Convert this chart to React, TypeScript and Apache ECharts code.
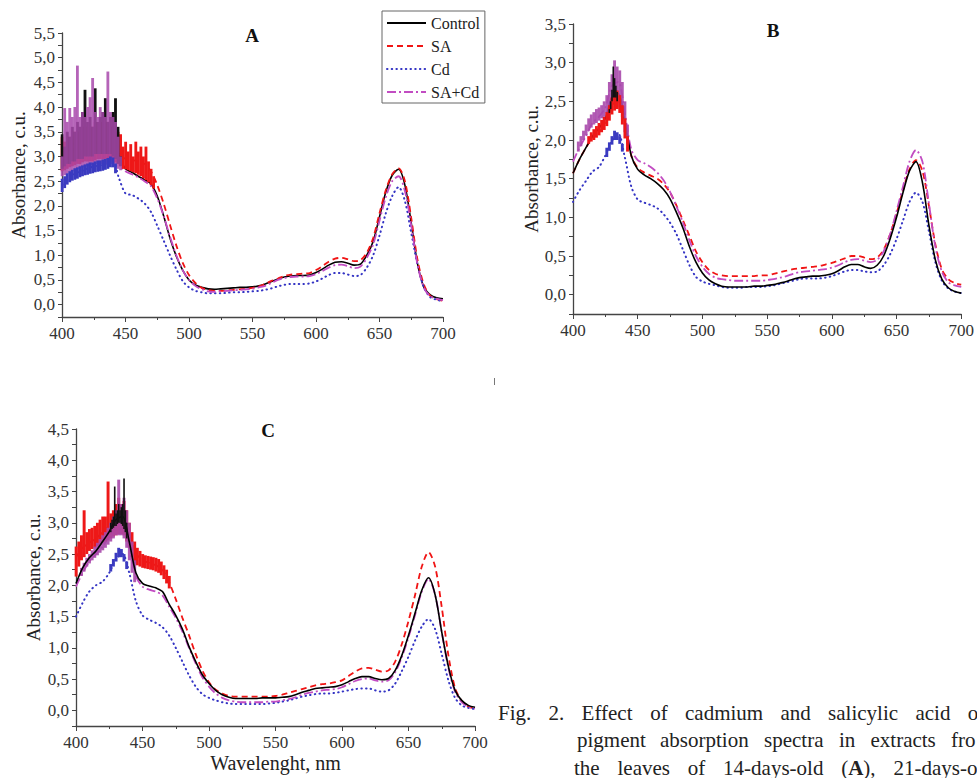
import React, { useEffect, useRef } from "react";
import * as echarts from "echarts";

// ---------- shared wavelength grid (nm) ----------
const WL = [400,405,410,415,420,425,430,435,440,445,450,455,460,465,470,475,480,485,490,495,500,505,510,515,520,525,530,535,540,545,550,555,560,565,570,575,580,585,590,595,600,605,610,615,620,625,630,635,640,645,650,655,660,665,670,675,680,685,690,695,700];

// ---------- Panel A (14 days) ----------
const A_CONTROL = [3.1,3.1,3.15,3.2,3.2,3.25,3.3,3.3,3.3,3.0, 2.75,2.68,2.6,2.53,2.45,2.2,1.8,1.35,0.98,0.7, 0.5,0.4,0.35,0.32,0.31,0.32,0.33,0.34,0.35,0.35, 0.36,0.38,0.42,0.47,0.52,0.56,0.58,0.59,0.59,0.6, 0.65,0.72,0.8,0.86,0.87,0.84,0.8,0.82,1.0,1.28, 1.78,2.28,2.62,2.74,2.42,1.65,0.82,0.35,0.2,0.14, 0.12];
const A_SA = [3.0,3.05,3.1,3.15,3.2,3.25,3.3,3.3,3.25,3.05, 2.95,2.93,2.9,2.85,2.7,2.42,2.05,1.62,1.2,0.85, 0.6,0.44,0.34,0.3,0.28,0.28,0.29,0.3,0.31,0.32, 0.34,0.37,0.42,0.48,0.53,0.58,0.61,0.62,0.63,0.64, 0.7,0.78,0.87,0.93,0.95,0.92,0.88,0.9,1.05,1.35, 1.85,2.32,2.64,2.76,2.5,1.75,0.9,0.4,0.18,0.11, 0.08];
const A_CD = [2.35,2.55,2.65,2.7,2.75,2.8,2.82,2.85,2.9,2.55, 2.25,2.22,2.15,2.05,1.88,1.6,1.3,1.0,0.72,0.48, 0.35,0.28,0.25,0.23,0.23,0.23,0.24,0.25,0.25,0.26, 0.27,0.28,0.3,0.33,0.37,0.4,0.42,0.42,0.42,0.43, 0.47,0.53,0.6,0.64,0.64,0.61,0.58,0.6,0.75,1.0, 1.4,1.85,2.2,2.38,2.1,1.45,0.8,0.35,0.15,0.1, 0.07];
const A_SACD = [3.15,3.2,3.25,3.25,3.3,3.3,3.3,3.3,3.3,2.85, 2.7,2.64,2.58,2.5,2.4,2.15,1.8,1.38,1.0,0.7, 0.5,0.38,0.31,0.27,0.26,0.27,0.28,0.29,0.3,0.31, 0.32,0.35,0.38,0.44,0.5,0.54,0.56,0.57,0.57,0.58, 0.62,0.68,0.75,0.8,0.81,0.78,0.74,0.77,0.95,1.22, 1.7,2.18,2.5,2.6,2.3,1.6,0.8,0.34,0.17,0.12, 0.09];

// noisy regions of panel A: wavelength, lower and upper envelope of the scatter
const A_NOISE_X = [400,402,404,406,408,410,412,414,416,418,420,422,424,426,428,430,432,434,436,438,440,442,444,446];
const A_CONTROL_HI = [3.45,3.2,3.5,3.4,3.6,3.5,3.7,3.6,3.9,4.35,3.7,3.8,3.6,4.38,3.7,3.8,3.9,4.18,3.7,3.8,3.9,4.18,3.6,3.0];
const A_CONTROL_LO = [2.75,2.8,2.85,2.85,2.9,2.9,2.95,2.95,2.95,3.0,3.0,3.0,3.0,3.05,3.05,3.05,3.05,3.05,3.05,3.05,3.0,2.95,2.85,2.8];
const A_SACD_HI = [3.0,3.98,3.7,3.98,3.8,4.0,4.84,3.8,3.9,3.8,4.0,4.2,4.59,3.9,3.8,4.0,3.9,3.8,4.72,3.9,3.8,3.7,3.4,3.0];
const A_SACD_LO = [2.6,2.62,2.65,2.68,2.7,2.72,2.75,2.75,2.78,2.8,2.8,2.82,2.82,2.85,2.85,2.85,2.85,2.85,2.85,2.85,2.85,2.8,2.75,2.72];
const A_SA_NX = [400,402,404,406,408,410,412,414,416,418,420,422,424,426,428,430,432,434,436,438,440,442,444,446,448,450,452,454,456,458,460,462,464,466,468,470,472];
const A_SA_HI = [3.4,3.3,3.3,3.4,3.4,3.5,3.5,3.5,3.6,3.6,3.6,3.6,3.6,3.7,3.7,3.7,3.7,3.7,3.7,3.6,3.6,3.5,3.5,3.45,3.2,3.3,3.1,3.25,3.0,3.3,3.1,3.2,3.0,3.2,2.9,2.75,2.6];
const A_SA_LO = [2.7,2.72,2.75,2.78,2.8,2.82,2.85,2.85,2.88,2.9,2.9,2.9,2.9,2.92,2.95,2.95,2.95,2.95,2.95,2.92,2.9,2.88,2.85,2.8,2.75,2.74,2.72,2.7,2.68,2.66,2.63,2.6,2.56,2.52,2.48,2.42,2.35];
const A_CD_NX = [400,402,404,406,408,410,412,414,416,418,420,422,424,426,428,430,432,434,436,438,440,442];
const A_CD_HI = [2.55,2.6,2.66,2.7,2.73,2.76,2.78,2.8,2.82,2.84,2.86,2.88,2.88,2.9,2.92,2.92,2.94,2.95,2.97,3.0,2.98,2.86];
const A_CD_LO = [2.28,2.36,2.43,2.48,2.51,2.53,2.55,2.58,2.6,2.62,2.63,2.65,2.66,2.68,2.69,2.7,2.71,2.73,2.75,2.78,2.78,2.66];

// ---------- Panel B (21 days) ----------
const B_CONTROL = [1.57,1.75,1.9,2.05,2.15,2.28,2.55,2.6,2.25,1.8, 1.62,1.55,1.5,1.44,1.36,1.24,1.06,0.86,0.62,0.42, 0.28,0.19,0.14,0.11,0.1,0.1,0.1,0.1,0.11,0.11, 0.12,0.13,0.15,0.17,0.2,0.22,0.23,0.24,0.24,0.25, 0.27,0.31,0.36,0.39,0.39,0.36,0.34,0.38,0.5,0.72, 1.0,1.32,1.6,1.72,1.45,0.9,0.45,0.2,0.09,0.04, 0.02];
const B_SA = [1.57,1.75,1.9,2.03,2.1,2.2,2.45,2.5,2.2,1.8, 1.64,1.58,1.54,1.5,1.43,1.32,1.15,0.96,0.76,0.56, 0.42,0.32,0.27,0.25,0.24,0.24,0.24,0.24,0.24,0.25, 0.25,0.27,0.29,0.31,0.33,0.34,0.35,0.36,0.37,0.39, 0.41,0.44,0.47,0.5,0.5,0.48,0.46,0.48,0.58,0.78, 1.05,1.35,1.62,1.74,1.6,1.15,0.65,0.33,0.2,0.15, 0.13];
const B_CD = [1.2,1.35,1.47,1.59,1.65,1.8,1.98,2.08,1.78,1.4, 1.23,1.19,1.16,1.12,1.04,0.93,0.78,0.58,0.38,0.23, 0.17,0.14,0.12,0.1,0.09,0.09,0.09,0.1,0.1,0.1, 0.11,0.12,0.14,0.16,0.18,0.2,0.21,0.21,0.21,0.22, 0.24,0.27,0.3,0.32,0.32,0.3,0.29,0.3,0.38,0.52, 0.72,0.96,1.2,1.32,1.2,0.82,0.42,0.18,0.08,0.04, 0.02];
const B_SACD = [1.72,1.9,2.05,2.22,2.3,2.42,2.7,2.75,2.35,1.88, 1.74,1.7,1.65,1.58,1.48,1.33,1.14,0.93,0.7,0.5, 0.36,0.27,0.22,0.2,0.19,0.18,0.18,0.18,0.18,0.18, 0.19,0.2,0.22,0.24,0.27,0.29,0.3,0.31,0.32,0.33, 0.35,0.38,0.42,0.45,0.46,0.44,0.42,0.45,0.56,0.78, 1.08,1.4,1.72,1.87,1.72,1.18,0.62,0.3,0.16,0.12, 0.1];

const B_SACD_NX = [404,406,408,410,412,414,416,418,420,422,424,426,428,430,432,434,436,438,440,442];
const B_SACD_HI = [1.98,2.05,2.12,2.2,2.28,2.33,2.36,2.4,2.42,2.45,2.5,2.58,2.75,2.85,3.03,2.95,2.9,2.75,2.5,2.2];
const B_SACD_LO = [1.85,1.92,2.0,2.06,2.12,2.16,2.2,2.22,2.25,2.28,2.3,2.35,2.42,2.5,2.5,2.48,2.42,2.3,2.1,1.95];
const B_SA_NX = [412,414,416,418,420,422,424,426,428,430,432,434,436,438,440,442];
const B_SA_HI = [2.05,2.1,2.14,2.18,2.22,2.26,2.3,2.36,2.45,2.55,2.62,2.64,2.58,2.45,2.28,2.05];
const B_SA_LO = [1.95,1.98,2.0,2.03,2.06,2.1,2.13,2.18,2.25,2.33,2.38,2.4,2.35,2.2,2.02,1.85];
const B_CONTROL_NX = [428,429,430,431,432,433,434];
const B_CONTROL_HI = [2.4,2.5,2.65,2.95,2.8,2.7,2.62];
const B_CONTROL_LO = [2.35,2.4,2.5,2.55,2.55,2.55,2.5];
const B_CD_NX = [426,428,430,432,434,436,438];
const B_CD_HI = [1.9,1.97,2.05,2.12,2.1,2.05,1.95];
const B_CD_LO = [1.78,1.86,1.94,2.0,2.0,1.95,1.85];

// ---------- Panel C (28 days) ----------
const C_CONTROL = [2.03,2.28,2.44,2.55,2.7,2.86,3.05,3.1,2.7,2.2, 2.03,1.99,1.96,1.9,1.7,1.52,1.3,1.02,0.78,0.57, 0.43,0.32,0.25,0.21,0.19,0.19,0.19,0.19,0.2,0.2, 0.2,0.21,0.22,0.25,0.29,0.32,0.35,0.36,0.37,0.38, 0.41,0.46,0.51,0.54,0.54,0.51,0.49,0.51,0.64,0.88, 1.2,1.56,1.92,2.12,1.85,1.25,0.7,0.32,0.16,0.08, 0.05];
const C_SA = [2.45,2.6,2.68,2.75,2.85,2.95,3.05,3.05,2.85,2.52, 2.4,2.36,2.32,2.25,2.05,1.78,1.48,1.2,0.9,0.64, 0.45,0.33,0.27,0.23,0.22,0.22,0.22,0.22,0.22,0.22, 0.23,0.25,0.28,0.31,0.34,0.37,0.4,0.42,0.43,0.45, 0.48,0.55,0.62,0.67,0.68,0.65,0.62,0.64,0.78,1.06, 1.43,1.85,2.3,2.53,2.3,1.65,0.88,0.36,0.15,0.06, 0.03];
const C_CD = [1.5,1.72,1.9,2.0,2.06,2.2,2.42,2.5,2.2,1.75, 1.52,1.45,1.4,1.33,1.2,1.0,0.78,0.56,0.38,0.26, 0.2,0.16,0.13,0.11,0.1,0.1,0.1,0.1,0.1,0.11, 0.12,0.14,0.16,0.19,0.22,0.24,0.26,0.27,0.27,0.28, 0.3,0.32,0.34,0.35,0.35,0.32,0.3,0.32,0.43,0.63, 0.86,1.12,1.34,1.46,1.3,0.9,0.48,0.2,0.08,0.04, 0.02];
const C_SACD = [1.98,2.2,2.38,2.5,2.62,2.78,2.95,3.0,2.65,2.15, 1.98,1.93,1.9,1.84,1.66,1.48,1.26,1.0,0.75,0.53, 0.38,0.27,0.2,0.16,0.14,0.13,0.13,0.13,0.13,0.14, 0.14,0.16,0.18,0.21,0.25,0.28,0.3,0.32,0.33,0.34, 0.37,0.42,0.47,0.5,0.51,0.48,0.46,0.48,0.61,0.85, 1.17,1.53,1.9,2.1,1.85,1.25,0.68,0.3,0.13,0.06, 0.03];

const C_SA_NX = [400,402,404,406,408,410,412,414,416,418,420,422,424,426,428,430,432,434,436,438,440,442,444,446,448,450,452,454,456,458,460,462,464,466,468,470];
const C_SA_HI = [2.62,2.7,2.8,3.2,2.85,2.9,2.92,2.95,3.0,3.05,3.1,3.1,3.66,3.15,3.2,3.3,3.4,3.3,3.35,3.2,3.0,2.85,2.7,2.6,2.55,2.5,2.48,2.47,2.46,2.45,2.44,2.42,2.38,2.32,2.25,2.15];
const C_SA_LO = [2.14,2.3,2.4,2.45,2.5,2.55,2.58,2.6,2.62,2.65,2.68,2.7,2.72,2.75,2.78,2.8,2.82,2.82,2.8,2.7,2.6,2.45,2.35,2.32,2.3,2.28,2.27,2.26,2.25,2.24,2.22,2.2,2.16,2.1,2.03,1.95];
const C_SACD_NX = [404,406,408,410,412,414,416,418,420,422,424,426,428,430,432,434,436,438,440,442,444];
const C_SACD_HI = [2.28,2.36,2.44,2.5,2.56,2.62,2.68,2.74,2.8,2.85,2.92,3.0,3.1,3.2,3.69,3.3,3.4,3.2,3.0,2.7,2.4];
const C_SACD_LO = [2.15,2.22,2.3,2.35,2.4,2.44,2.48,2.52,2.56,2.6,2.65,2.7,2.75,2.8,2.8,2.8,2.75,2.6,2.4,2.2,2.05];
const C_CONTROL_NX = [426,427,428,429,430,431,432,433,434,435,436,437,438];
const C_CONTROL_HI = [3.0,3.05,3.1,3.58,3.15,3.2,3.3,3.2,3.25,3.3,3.71,3.2,3.0];
const C_CONTROL_LO = [2.85,2.9,2.92,2.95,2.95,2.98,3.0,3.0,2.98,2.95,2.9,2.85,2.75];
const C_CD_NX = [426,428,430,432,434,436,438];
const C_CD_HI = [2.34,2.42,2.52,2.6,2.58,2.5,2.38];
const C_CD_LO = [2.22,2.3,2.38,2.45,2.45,2.38,2.26];

// ---------- texts ----------
const LEGEND_NAMES = ["Control", "SA", "Cd", "SA+Cd"];
const Y_NAME = "Absorbance, c.u.";
const X_NAME = "Wavelenght, nm";
const PANEL_TITLES = ["A", "B", "C"];
const CAPTION_L1 = ["Fig.", "2.", "Effect", "of", "cadmium", "and", "salicylic", "acid", "o"];
const CAPTION_L2 = ["pigment", "absorption", "spectra", "in", "extracts", "fro"];
const CAPTION_L3 = ["the", "leaves", "of", "14-days-old", "({b|A}),", "21-days-o"];

const FONT = '"Liberation Serif", "Times New Roman", serif';
const COLORS = { Control: "#000000", SA: "#f01414", Cd: "#3434c4", "SA+Cd": "#c24cc2" };
const BAND_COLORS = { Control: "#111111", SA: "#ee1818", Cd: "#3a3ac0", "SA+Cd": "#a849ab" };

function lineStyleFor(name: string) {
  switch (name) {
    case "Control": return { color: COLORS.Control, width: 1.6, type: "solid" as any };
    case "SA": return { color: COLORS.SA, width: 1.8, type: [6, 4] as any };
    case "Cd": return { color: COLORS.Cd, width: 2, type: [0.5, 4.2] as any, cap: "round" as any };
    default: return { color: COLORS["SA+Cd"], width: 1.8, type: [9, 3, 2, 3] as any };
  }
}

function lineSeries(name: string, gi: number, values: number[], z = 2) {
  return {
    type: "line", name, xAxisIndex: gi, yAxisIndex: gi, z,
    data: WL.map((w, i) => [w, values[i]]),
    symbol: "none", showSymbol: false, smooth: 0.3,
    lineStyle: lineStyleFor(name),
    itemStyle: { color: (COLORS as any)[name] },
    silent: true,
  };
}

function bandSeries(id: string, gi: number, xs: number[], lo: number[], hi: number[], color: string, z: number, opacity = 1) {
  return {
    type: "custom", name: id, xAxisIndex: gi, yAxisIndex: gi, z, silent: true,
    data: xs.map((x, i) => [x, lo[i], hi[i]]),
    encode: { x: 0, y: [1, 2] },
    renderItem: (params: any, api: any) => {
      const i = params.dataIndex;
      const n = xs.length;
      const x = xs[i];
      const left = i > 0 ? (x - xs[i - 1]) / 2 : (xs[1] - xs[0]) / 2;
      const right = i < n - 1 ? (xs[i + 1] - x) / 2 : left;
      const p1 = api.coord([x - left, api.value(2)]);
      const p2 = api.coord([x + right, api.value(1)]);
      return {
        type: "rect",
        shape: { x: p1[0], y: p1[1], width: p2[0] - p1[0] + 0.3, height: p2[1] - p1[1] },
        style: { fill: color, opacity },
      };
    },
  };
}

function xAxisFor(gi: number, withName: boolean) {
  return {
    type: "value", gridIndex: gi, min: 400, max: 700, interval: 50,
    axisLine: { show: true, onZero: false, lineStyle: { color: "#444", width: 1.3 } },
    axisTick: { show: true, length: 5, lineStyle: { color: "#444", width: 1 } },
    minorTick: { show: true, splitNumber: 2, length: 3, lineStyle: { color: "#444", width: 1 } },
    splitLine: { show: false }, minorSplitLine: { show: false },
    axisLabel: { color: "#333", fontFamily: FONT, fontSize: 17, margin: 8 },
    name: withName ? X_NAME : "", nameLocation: "middle", nameGap: 27,
    nameTextStyle: { fontFamily: FONT, fontSize: 20, color: "#222" },
  };
}

function yFmt(v: number) {
  const r = Math.round(v * 2);
  if (Math.abs(v * 2 - r) > 1e-6 || v < -1e-6) return "";
  return (r / 2).toFixed(1).replace(".", ",");
}

function yAxisFor(gi: number, max: number, gap: number) {
  return {
    type: "value", gridIndex: gi, min: -0.25, max, interval: 0.25,
    axisLine: { show: true, onZero: false, lineStyle: { color: "#444", width: 1.3 } },
    axisTick: { show: true, length: 4, lineStyle: { color: "#444", width: 1 } },
    splitLine: { show: false },
    axisLabel: { color: "#333", fontFamily: FONT, fontSize: 17, margin: 7, formatter: yFmt },
    name: Y_NAME, nameLocation: "middle", nameGap: gap,
    nameTextStyle: { fontFamily: FONT, fontSize: 19, color: "#222" },
  };
}

function buildOption() {
  const series: any[] = [];
  // Panel A
  series.push(lineSeries("Control", 0, A_CONTROL, 2));
  series.push(lineSeries("SA", 0, A_SA, 2));
  series.push(lineSeries("Cd", 0, A_CD, 2));
  series.push(lineSeries("SA+Cd", 0, A_SACD, 2));
  series.push(bandSeries("A-SA-noise", 0, A_SA_NX, A_SA_LO, A_SA_HI, BAND_COLORS.SA, 3));
  series.push(bandSeries("A-Control-noise", 0, A_NOISE_X, A_CONTROL_LO, A_CONTROL_HI, BAND_COLORS.Control, 4));
  series.push(bandSeries("A-SACD-noise", 0, A_NOISE_X, A_SACD_LO, A_SACD_HI, BAND_COLORS["SA+Cd"], 5, 0.85));
  series.push(bandSeries("A-Cd-noise", 0, A_CD_NX, A_CD_LO, A_CD_HI, BAND_COLORS.Cd, 6));
  // Panel B
  series.push(lineSeries("SA", 1, B_SA, 2));
  series.push(lineSeries("Cd", 1, B_CD, 2));
  series.push(lineSeries("SA+Cd", 1, B_SACD, 2));
  series.push(lineSeries("Control", 1, B_CONTROL, 2));
  series.push(bandSeries("B-SACD-noise", 1, B_SACD_NX, B_SACD_LO, B_SACD_HI, BAND_COLORS["SA+Cd"], 3, 0.9));
  series.push(bandSeries("B-SA-noise", 1, B_SA_NX, B_SA_LO, B_SA_HI, BAND_COLORS.SA, 4));
  series.push(bandSeries("B-Control-noise", 1, B_CONTROL_NX, B_CONTROL_LO, B_CONTROL_HI, BAND_COLORS.Control, 5));
  series.push(bandSeries("B-Cd-noise", 1, B_CD_NX, B_CD_LO, B_CD_HI, BAND_COLORS.Cd, 6));
  // Panel C
  series.push(lineSeries("SA", 2, C_SA, 2));
  series.push(lineSeries("Cd", 2, C_CD, 2));
  series.push(lineSeries("SA+Cd", 2, C_SACD, 2));
  series.push(lineSeries("Control", 2, C_CONTROL, 8));
  series.push(bandSeries("C-SA-noise", 2, C_SA_NX, C_SA_LO, C_SA_HI, BAND_COLORS.SA, 3));
  series.push(bandSeries("C-SACD-noise", 2, C_SACD_NX, C_SACD_LO, C_SACD_HI, BAND_COLORS["SA+Cd"], 4, 0.9));
  series.push(bandSeries("C-Control-noise", 2, C_CONTROL_NX, C_CONTROL_LO, C_CONTROL_HI, BAND_COLORS.Control, 9));
  series.push(bandSeries("C-Cd-noise", 2, C_CD_NX, C_CD_LO, C_CD_HI, BAND_COLORS.Cd, 6));

  const capFont = `21px ${FONT}`;
  const l1x = [498, 548.6, 581.6, 650.2, 685, 780.5, 828.1, 915.4, 967.7];
  const l2x = [577, 660, 764, 839, 870.5, 951];
  const l3x = [574, 617.5, 687.8, 723.1, 841.2, 893.4];
  const capText = (w: string, x: number, y: number) => ({
    type: "text", x, y,
    style: {
      text: w.indexOf("{b|") >= 0 ? w.replace(/^\(/, "{n|(}").replace(/\),$/, "{n|),}") : w,
      font: capFont, fill: "#222", textVerticalAlign: "middle",
      rich: { n: { font: capFont, fill: "#222" }, b: { font: `bold ${capFont}`, fill: "#222" } },
    },
  });
  const graphic: any[] = [
    { type: "text", x: 252, y: 35, style: { text: PANEL_TITLES[0], font: `bold 19px ${FONT}`, fill: "#111", textAlign: "center", textVerticalAlign: "middle" } },
    { type: "text", x: 773, y: 30, style: { text: PANEL_TITLES[1], font: `bold 19px ${FONT}`, fill: "#111", textAlign: "center", textVerticalAlign: "middle" } },
    { type: "text", x: 268, y: 430, style: { text: PANEL_TITLES[2], font: `bold 19px ${FONT}`, fill: "#111", textAlign: "center", textVerticalAlign: "middle" } },
    { type: "line", shape: { x1: 494.5, y1: 378, x2: 494.5, y2: 385 }, style: { stroke: "#777", lineWidth: 1 } },
    ...CAPTION_L1.map((w, i) => capText(w, l1x[i], 713)),
    ...CAPTION_L2.map((w, i) => capText(w, l2x[i], 740)),
    ...CAPTION_L3.map((w, i) => capText(w, l3x[i], 768)),
  ];

  return {
    animation: false,
    backgroundColor: "#ffffff",
    grid: [
      { left: 62, top: 33, width: 381, height: 284 },
      { left: 573, top: 24, width: 391, height: 290 },
      { left: 76, top: 429, width: 399, height: 297 },
    ],
    xAxis: [xAxisFor(0, false), xAxisFor(1, false), xAxisFor(2, true)],
    yAxis: [yAxisFor(0, 5.5, 34), yAxisFor(1, 3.5, 31), yAxisFor(2, 4.5, 33)],
    legend: {
      data: LEGEND_NAMES,
      orient: "vertical",
      left: 382, top: 11,
      padding: [4, 5, 3, 4],
      itemWidth: 39, itemHeight: 14, itemGap: 7,
      borderColor: "#666", borderWidth: 1,
      selectedMode: false,
      itemStyle: { opacity: 0 },
      textStyle: { fontFamily: FONT, fontSize: 16, color: "#222" },
    },
    series,
    graphic,
  };
}

export default function App() {
  const ref = useRef<HTMLDivElement>(null);
  useEffect(() => {
    if (!ref.current) return;
    const chart = echarts.init(ref.current, null, { renderer: "svg" });
    chart.setOption(buildOption() as any);
    return () => chart.dispose();
  }, []);
  return (
    <div
      ref={ref}
      style={{ position: "fixed", left: 0, top: 0, width: 977, height: 778, background: "#fff" }}
    />
  );
}
